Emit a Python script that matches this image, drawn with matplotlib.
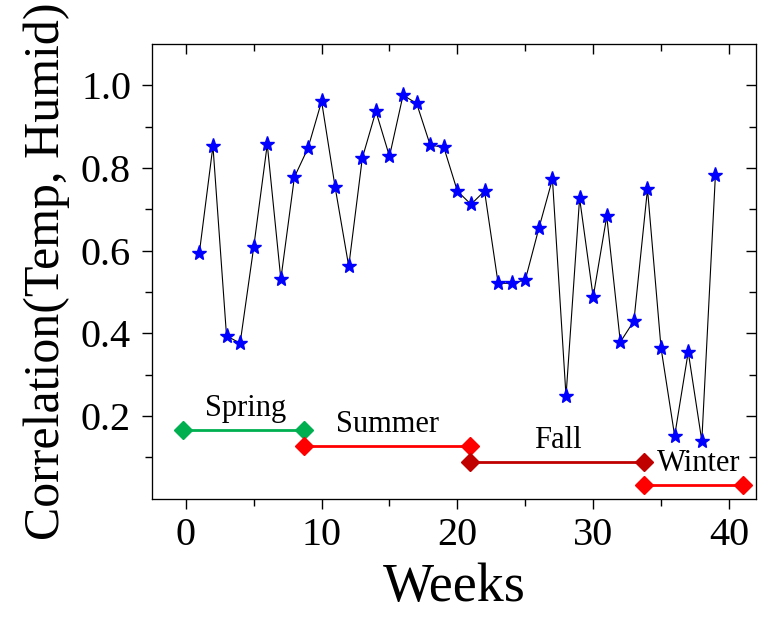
import numpy as np
import matplotlib
matplotlib.use('Agg')
import matplotlib.pyplot as plt
from matplotlib.ticker import MultipleLocator, FixedLocator

plt.rcParams['font.family'] = 'Liberation Serif'

weeks = np.arange(1, 40)
corr = [0.595, 0.853, 0.394, 0.376, 0.608, 0.857, 0.531, 0.778, 0.848, 0.961,
        0.753, 0.562, 0.824, 0.937, 0.828, 0.976, 0.956, 0.855, 0.850, 0.744,
        0.712, 0.744, 0.521, 0.521, 0.529, 0.654, 0.773, 0.248, 0.727, 0.488,
        0.683, 0.379, 0.430, 0.749, 0.364, 0.152, 0.355, 0.140, 0.782]

# seasons: name, start week, end week, level, colour, label position
seasons = ['Spring', 'Summer', 'Fall', 'Winter']
season_start = [-0.2, 8.7, 20.95, 33.75]
season_end = [8.7, 20.95, 33.75, 41.0]
season_level = [0.166, 0.128, 0.089, 0.033]
season_color = ['#00b050', '#ff0000', '#c00000', '#ff0000']
label_x = [4.4, 14.85, 27.4, 37.8]
label_y = [0.218, 0.18, 0.14, 0.084]

fig = plt.figure(figsize=(7.63, 6.18), dpi=100)
ax = fig.add_axes([0.199, 0.193, 0.792, 0.736])

ax.plot(weeks, corr, color='black', lw=0.8, marker='*', ms=11,
        mfc='blue', mec='blue')

for name, s, e, lv, c, tx, ty in zip(seasons, season_start, season_end,
                                      season_level, season_color, label_x, label_y):
    ax.plot([s, e], [lv, lv], color=c, lw=2, marker='D', ms=9, mfc=c, mec=c)
    ax.text(tx, ty, name, fontsize=22, ha='center', va='center')

ax.set_xlim(-2.5, 42)
ax.set_ylim(0, 1.1)
ax.xaxis.set_major_locator(MultipleLocator(10))
ax.xaxis.set_minor_locator(MultipleLocator(5))
ax.yaxis.set_major_locator(FixedLocator([0.2, 0.4, 0.6, 0.8, 1.0]))
ax.yaxis.set_minor_locator(FixedLocator([0.1, 0.3, 0.5, 0.7, 0.9]))
ax.set_yticklabels(['0.2', '0.4', '0.6', '0.8', '1.0'])

ax.tick_params(which='both', direction='out', labelsize=29, width=1,
               top=False, right=False)
ax.tick_params(which='major', length=7)
ax.tick_params(which='minor', length=5)
ax.tick_params(axis='x', pad=6)
ax.tick_params(axis='y', pad=8)

# inward ticks on top and right
ax2 = ax.twinx()
ax2.set_ylim(ax.get_ylim())
ax2.yaxis.set_major_locator(FixedLocator([0.2, 0.4, 0.6, 0.8, 1.0]))
ax2.yaxis.set_minor_locator(FixedLocator([0.1, 0.3, 0.5, 0.7, 0.9]))
ax2.tick_params(which='both', direction='in', labelright=False, width=1)
ax2.tick_params(which='major', length=7)
ax2.tick_params(which='minor', length=5)
ax3 = ax.twiny()
ax3.set_xlim(ax.get_xlim())
ax3.xaxis.set_major_locator(MultipleLocator(10))
ax3.xaxis.set_minor_locator(MultipleLocator(5))
ax3.tick_params(which='both', direction='in', labeltop=False, width=1)
ax3.tick_params(which='major', length=7)
ax3.tick_params(which='minor', length=5)

ax.set_xlabel('Weeks', fontsize=39, labelpad=6)
ax.set_ylabel('Correlation(Temp, Humid)', fontsize=36, labelpad=8)

fig.savefig('out.png', dpi=100)
